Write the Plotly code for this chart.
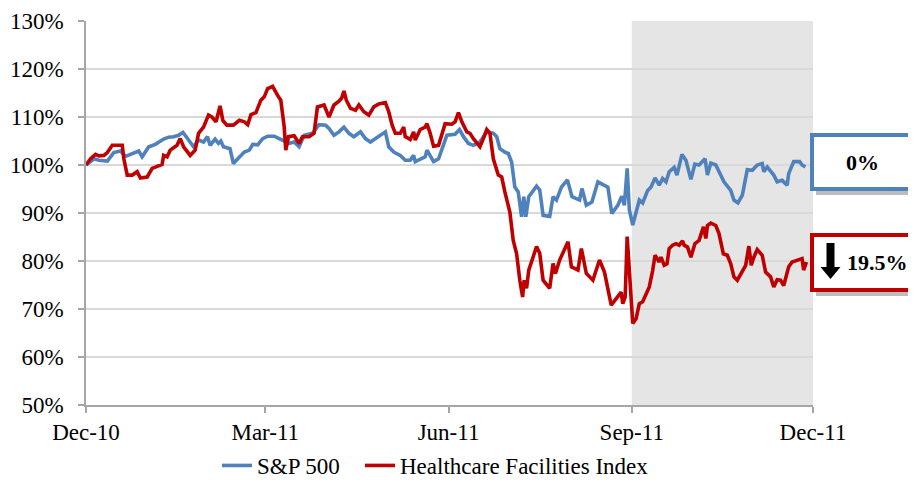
import pandas as pd
import plotly.graph_objects as go

# ---- data (day offsets from 2010-12-01, index level in %) ----
sp_days = [0, 4, 6.5, 10.7, 14, 17.3, 19.8, 24, 26.5, 28.2, 31.5, 34.8, 39, 41.5, 44, 46.5, 48.7,
           51.5, 54, 56.5, 59, 61, 62.3, 64.8, 66.5, 67.7, 69, 72.3, 74, 76.2, 79.5, 82, 83.7, 86.2,
           88.7, 91.2, 94.5, 97, 99.5, 102, 104.5, 107, 109.5, 113.7, 117, 120.3, 122, 124.5, 127,
           129.5, 132, 134.5, 137.8, 140.3, 142.8, 147.8, 150.3, 152, 154.5, 157.8, 160.3, 162.8,
           164.5, 165.3, 167.8, 170.3, 171.2, 172.8, 174.5, 177, 179.5, 181.2, 185.3, 187.5, 189.5,
           192, 194.5, 197.8, 201.2, 204.5, 206.2, 207.8, 210.3, 212, 213.7, 215.3, 217, 218.7,
           219.8, 220.8, 222.3, 226.2, 227.8, 229.5, 232.8, 234.5, 236.2, 238.7, 241.7, 244, 247.8,
           249, 251.2, 254, 257, 260.3, 262, 264, 267, 269, 270.3, 271.7, 272.8, 274.5, 276.2,
           277.8, 279.5, 282, 283.7, 285.7, 287.8, 289.5, 291.2, 292.8, 295.3, 296.7, 299.2, 301.2,
           303.7, 305.7, 307.8, 309.5, 310.8, 312, 313.7, 316.2, 317.8, 320.3, 323.7, 325.3, 327.3,
           329.5, 332, 334.5, 337, 339.5, 340.3, 342, 345.3, 347, 349.5, 352, 352.8, 355.3, 358.3,
           359.5, 361.2]
sp_vals = [100, 101.3, 101, 100.8, 102.6, 102.9, 101.8, 102.6, 102.9, 101.7, 103.8, 104.3, 105.4,
           105.8, 105.9, 106.2, 106.8, 105.2, 103.8, 105.2, 104.8, 105.9, 104.1, 105.4, 104.5, 105,
           103.8, 103.4, 100.3, 101.3, 102.7, 103.1, 104.3, 104.2, 105.5, 106, 106, 105.5, 105,
           104.5, 104.8, 103.8, 106.2, 106.6, 108.4, 108.3, 107.6, 106.2, 106.9, 107.9, 106.6,
           105.9, 106.9, 105.5, 104.8, 106.2, 106.9, 103.8, 102.7, 102, 101, 101, 102, 100.7,
           101.1, 101.7, 103.1, 102, 100.7, 101.3, 104.1, 106.2, 106.4, 107.4, 105.9, 104.5, 104.1,
           104.8, 106.9, 106.6, 105.9, 103.4, 102.7, 102.4, 100.6, 95.4, 94.4, 89.2, 93.4, 89.2,
           93.4, 95.6, 94.8, 89.5, 89.3, 93.4, 92.7, 95.4, 96.9, 93.4, 92.7, 95.1, 91.6, 92.3, 96.5,
           95.8, 95.4, 89.9, 91.6, 93.5, 91.6, 99.3, 90.6, 87.5, 90.6, 92.7, 92.1, 94.7, 95.4, 97.3,
           95.8, 97.2, 96.5, 98.6, 99.5, 97.9, 102.2, 101, 97, 100.2, 100, 100.7, 101.3, 97.9,
           100.4, 100, 98.6, 96.5, 94.7, 92.7, 92.1, 93.7, 99, 98.9, 100, 100.3, 98.6, 99.6, 97.9,
           96.5, 96.8, 95.8, 98.2, 100.7, 100.7, 100, 99.6]

hc_days = [0, 2.3, 4.8, 6.5, 9, 10.7, 13.2, 18.2, 19, 20.7, 23.2, 25.7, 27.3, 30.7, 33.2, 35.7,
           38.2, 39, 40.7, 42.3, 45.7, 47.3, 49, 52.3, 54.8, 56.5, 59, 61.5, 63.2, 65.3, 67.3,
           68.7, 70.7, 74, 77, 79.5, 81.2, 82.8, 85.3, 87.8, 89.5, 91.2, 93.7, 96.2, 97.8, 99.5,
           100.3, 101.7, 104.5, 107, 108.7, 112, 114.5, 116.2, 119.5, 122, 124.5, 127, 128.3,
           129.5, 130.7, 132.8, 135.3, 137, 139.5, 142, 144.5, 147, 150.3, 152, 153.7, 155.3,
           157.8, 159.5, 160.3, 162.8, 164.5, 165.3, 167.8, 170.3, 171.2, 172.8, 174.5, 177,
           178.7, 180.3, 183.7, 185.3, 187, 188.7, 191.2, 192.8, 194.5, 196.2, 197.8, 199.5,
           201.2, 202.8, 204.5, 207, 208.7, 210.3, 212.8, 214.5, 216.2, 217.8, 219.2, 220, 221.2,
           222.3, 226.2, 227.8, 229.5, 232.8, 234.5, 235.7, 237.8, 242, 243.7, 247, 248.7, 251.2,
           254.5, 257.8, 260.3, 263.7, 266.2, 268.7, 269.5, 270.7, 271.7, 273.3, 274.5, 276.2,
           277.8, 279.5, 281.2, 282.8, 284.5, 285.7, 287.8, 288.7, 290.3, 291.7, 292.8, 294.5,
           296.2, 297.8, 299.5, 300.3, 302, 303.7, 305.7, 307.8, 310, 311.2, 312, 313.7, 316.2,
           317.8, 320, 322, 323.7, 325.3, 327, 329.5, 331.2, 332.8, 334, 335.3, 337, 339.5, 341.2,
           343.7, 345.3, 347, 348.7, 350.3, 352.8, 354.5, 357.8, 359.5, 360.3, 361.7]
hc_vals = [100, 101.3, 102.2, 101.9, 102, 102.6, 104.1, 104.1, 101.3, 97.9, 97.9, 98.6, 97.3,
           97.5, 99.3, 99.8, 100.1, 102, 101.7, 103.1, 104.1, 105.5, 103.8, 102, 103.1, 106.6,
           107.9, 110.4, 110, 109, 112.3, 109.3, 108.3, 108.3, 109.3, 109, 108.4, 110.5, 110.9,
           113.5, 114.2, 115.9, 116.4, 114.5, 113.5, 108, 103.1, 105.9, 106.1, 104.5, 105.9,
           105.9, 106.6, 112.1, 112.5, 110, 112.5, 113.3, 113.9, 115.4, 113.5, 111.8, 111.4,
           112.5, 111.1, 110.4, 112.1, 112.7, 113, 111.1, 108.3, 106.6, 106.6, 107.9, 105.9,
           105.3, 106.9, 105.2, 107.4, 107.9, 108.6, 106.6, 103.9, 104.1, 106.2, 108.6, 108.5,
           109, 110.9, 109, 106.9, 106.6, 105.5, 104.5, 103.8, 105.5, 107.4, 106.6, 101.3, 97.9,
           97.5, 94.4, 90.2, 84.3, 81.5, 76, 72.5, 76, 74.3, 78.1, 83, 81.6, 76, 74.3, 79.5, 77.4,
           80.2, 84, 78.8, 78.1, 82.6, 77.4, 76, 80.2, 77.7, 70.8, 72.2, 73.5, 71.1, 72.5, 85.1,
           75.3, 67, 68, 71.1, 71.5, 73.2, 74.6, 78, 81.2, 79.8, 80.8, 79.1, 79.4, 82.6, 83.3,
           83.6, 83.3, 84.2, 83.3, 82.9, 80.8, 83.6, 84.3, 87.1, 84.7, 87.4, 87.9, 87.4, 85.7,
           81.5, 81.2, 79.4, 76.7, 76, 77.7, 79.1, 83.1, 79.1, 80.8, 82.4, 81.2, 77.7, 76.7, 74.6,
           76.1, 76, 74.9, 78.8, 79.8, 80.2, 80.5, 78.1, 79.8]

series_names = ["S&P 500", "Healthcare Facilities Index"]
tick_dates = ["2010-12-01", "2011-03-01", "2011-06-01", "2011-09-01", "2011-12-01"]
tick_labels = ["Dec-10", "Mar-11", "Jun-11", "Sep-11", "Dec-11"]
y_ticks = [50, 60, 70, 80, 90, 100, 110, 120, 130]
shade_start, shade_end = "2011-09-01", "2011-12-01"
sp_change_label = "0%"
hc_change_label = "19.5%"

base = pd.Timestamp("2010-12-01")
sp_x = [base + pd.Timedelta(days=d) for d in sp_days]
hc_x = [base + pd.Timedelta(days=d) for d in hc_days]

BLUE = "#4f81bd"
RED = "#c00000"
FONT = "Liberation Serif"
FS = 23

# page body has an 8px margin, so the figure is sized to fit the remaining window
OFF = 8
W, H = 916 - OFF, 480 - OFF
L, T = 86 - OFF, 21 - OFF
R = W - (813 - OFF)
B = H - (405 - OFF)
PW, PH = W - L - R, H - T - B


def px(x):  # page pixel -> paper
    return (x - OFF - L) / PW


def py(y):
    return (H - B - (y - OFF)) / PH


fig = go.Figure()
fig.add_trace(go.Scatter(x=sp_x, y=sp_vals, mode="lines", name=series_names[0],
                         line=dict(color=BLUE, width=3.6), legend="legend"))
fig.add_trace(go.Scatter(x=hc_x, y=hc_vals, mode="lines", name=series_names[1],
                         line=dict(color=RED, width=3.6), legend="legend2"))

shapes = [
    dict(type="rect", xref="x", yref="paper", x0=shade_start, x1=shade_end, y0=0, y1=1,
         fillcolor="#e5e5e5", line=dict(width=0), layer="below"),
    # blue box shadow + box
    dict(type="rect", xref="paper", yref="paper", x0=px(816), x1=px(919), y0=py(139), y1=py(195),
         fillcolor="#bdbdbd", line=dict(width=0), layer="above"),
    dict(type="rect", xref="paper", yref="paper", x0=px(812), x1=px(913), y0=py(135), y1=py(189),
         fillcolor="white", line=dict(color=BLUE, width=4), layer="above"),
    # red box shadow + box
    dict(type="rect", xref="paper", yref="paper", x0=px(816), x1=px(919), y0=py(239), y1=py(296),
         fillcolor="#bdbdbd", line=dict(width=0), layer="above"),
    dict(type="rect", xref="paper", yref="paper", x0=px(812), x1=px(913), y0=py(235), y1=py(290),
         fillcolor="white", line=dict(color=RED, width=4), layer="above"),
]

# down arrow in red box (pixel path converted to paper coordinates)
arrow_pts = [(826.5, 243), (834.5, 243), (834.5, 267), (840.5, 267), (830.5, 279), (820.5, 267),
             (826.5, 267)]
path = "M " + " L ".join(f"{px(x):.5f},{py(y):.5f}" for x, y in arrow_pts) + " Z"
shapes.append(dict(type="path", xref="paper", yref="paper", path=path, fillcolor="black",
                   line=dict(width=0), layer="above"))

annotations = [
    dict(xref="paper", yref="paper", x=px(862), y=py(162), text=f"<b>{sp_change_label}</b>",
         showarrow=False, font=dict(family=FONT, size=22, color="black"),
         xanchor="center", yanchor="middle"),
    dict(xref="paper", yref="paper", x=px(877), y=py(263), text=f"<b>{hc_change_label}</b>",
         showarrow=False, font=dict(family=FONT, size=22, color="black"),
         xanchor="center", yanchor="middle"),
]

leg_common = dict(orientation="h", xanchor="left", yanchor="middle",
                  font=dict(family=FONT, size=FS, color="black"), bgcolor="rgba(0,0,0,0)",
                  itemwidth=30, borderwidth=0)

fig.update_layout(
    width=W, height=H,
    margin=dict(l=L, r=R, t=T, b=B, pad=0, autoexpand=False),
    paper_bgcolor="white", plot_bgcolor="white",
    font=dict(family=FONT, size=FS, color="black"),
    showlegend=True,
    legend=dict(x=px(217), y=py(465.5), **leg_common),
    legend2=dict(x=px(360), y=py(465.5), **leg_common),
    shapes=shapes,
    annotations=annotations,
    xaxis=dict(type="date", range=[tick_dates[0], tick_dates[-1]], tickmode="array",
               tickvals=tick_dates, ticktext=tick_labels, showgrid=False, zeroline=False,
               showline=True, linecolor="#a6a6a6", linewidth=1.5, ticks="outside", ticklen=6,
               tickcolor="#a6a6a6", tickwidth=1.5, ticklabelstandoff=0, automargin=False),
    yaxis=dict(range=[50, 130], tickmode="array", tickvals=y_ticks,
               ticktext=[f"{v}%" for v in y_ticks], showgrid=True, gridcolor="#d9d9d9",
               gridwidth=1.5, zeroline=False, showline=True, linecolor="#a6a6a6", linewidth=1.5,
               ticks="outside", ticklen=6, tickcolor="#a6a6a6", tickwidth=1.5,
               ticklabelstandoff=10, automargin=False),
)

fig.write_html("out.html")
